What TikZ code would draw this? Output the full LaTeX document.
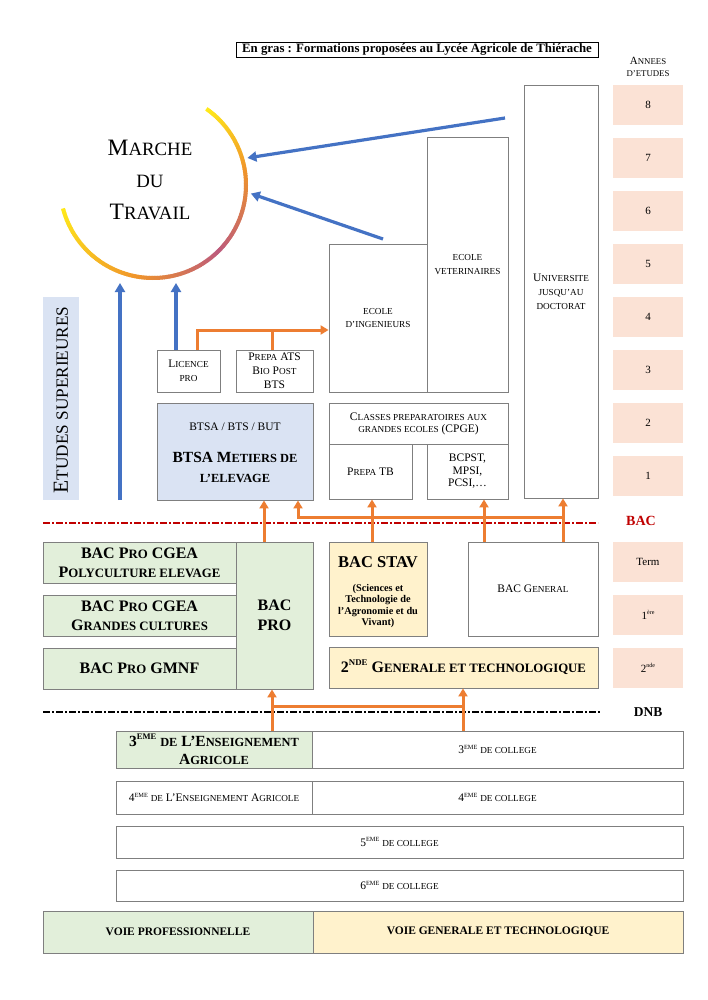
\documentclass[tikz,border=0pt]{standalone}
\usepackage{fontspec}
\usepackage{graphicx}
\setmainfont{Liberation Serif}
\usetikzlibrary{arrows.meta}
\newcommand\sm[1]{\scalebox{0.8}{#1}}
\newcommand\mysup[1]{\raisebox{0.42em}{\scalebox{0.55}{#1}}}
\newcommand\fnorm{\fontsize{11.5}{14}\selectfont}
\newcommand\fbold{\fontsize{16}{19}\selectfont\bfseries}
\definecolor{bgray}{HTML}{7F7F7F}
\definecolor{gfill}{HTML}{E2EFDA}
\definecolor{yfill}{HTML}{FFF2CC}
\definecolor{pfill}{HTML}{FBE2D5}
\definecolor{bfill}{HTML}{DAE3F3}
\definecolor{oline}{HTML}{ED7D31}
\definecolor{bline}{HTML}{4472C4}
\definecolor{redbac}{HTML}{C00000}
\definecolor{arcY}{HTML}{FFEA1A}
\definecolor{arcO}{HTML}{F0952A}
\definecolor{arcP}{HTML}{BD5A7C}
\begin{document}
\begin{tikzpicture}[x=1pt,y=-1pt,
  box/.style={draw=bgray, line width=0.9pt, inner sep=1pt, align=center, font=\fnorm},
  yearbox/.style={fill=pfill, minimum width=70pt, minimum height=40pt, inner sep=0, font=\fontsize{11}{13}\selectfont},
  oarrow/.style={draw=oline, line width=3pt, -{Triangle[length=8pt,width=9pt]}},
  oline/.style={draw=oline, line width=3pt},
  barrow/.style={draw=bline, line width=3.2pt, -{Triangle[length=9pt,width=10pt]}},
  dashline/.style={line width=1.5pt, dash pattern=on 7pt off 2pt on 2pt off 2pt}]
\useasboundingbox (0,0) rectangle (708,1000);
\fill[white] (0,0) rectangle (708,1000);

% header
\node[draw=black, line width=0.8pt, minimum width=362pt, minimum height=15pt, inner sep=0,
  font=\fontsize{12.8}{14}\selectfont\bfseries] (hdr) at (417,49.5)
  {En gras : Formations proposées au Lycée Agricole de Thiérache};
\node[align=center, font=\fontsize{11}{11.5}\selectfont] (annees) at (648,67) {A\sm{NNEES}\\\sm{D'ETUDES}};

% year boxes
\node[yearbox] (y8) at (648,105) {8};
\node[yearbox] (y7) at (648,158) {7};
\node[yearbox] (y6) at (648,211) {6};
\node[yearbox] (y5) at (648,264) {5};
\node[yearbox] (y4) at (648,317) {4};
\node[yearbox] (y3) at (648,370) {3};
\node[yearbox] (y2) at (648,423) {2};
\node[yearbox] (y1) at (648,476) {1};
\node[font=\fontsize{14}{16}\selectfont\bfseries, text=redbac] (bacl) at (641,521) {BAC};
\node[yearbox] (yt) at (648,562) {Term};
\node[yearbox] (yp) at (648,615) {1\mysup{ère}};
\node[yearbox] (ys) at (648,668) {2\mysup{nde}};
\node[font=\fontsize{13.5}{15}\selectfont\bfseries] (dnbl) at (648,712) {DNB};

% higher education
\node[box, minimum width=74pt, minimum height=413pt, font=\fontsize{11.5}{14}\selectfont] (univ) at (561,291.5)
  {U\sm{NIVERSITE}\\\sm{JUSQU'AU}\\\sm{DOCTORAT}};
\node[box, minimum width=81pt, minimum height=255pt, font=\fontsize{11.5}{14}\selectfont] (vet) at (467.5,264.5)
  {\sm{ECOLE}\\\sm{VETERINAIRES}};
\node[box, minimum width=98pt, minimum height=148pt, font=\fontsize{11.5}{13}\selectfont] (ing) at (378,318)
  {\sm{ECOLE}\\\sm{D'INGENIEURS}};
\node[box, minimum width=179pt, minimum height=41pt, font=\fontsize{11.5}{12}\selectfont] (cpge) at (418.5,423.5)
  {C\sm{LASSES PREPARATOIRES AUX}\\\sm{GRANDES ECOLES} (CPGE)};
\node[box, minimum width=83pt, minimum height=55pt] (prepatb) at (370.5,471.5) {P\sm{REPA} TB};
\node[box, minimum width=81pt, minimum height=55pt, font=\fontsize{11.5}{12.5}\selectfont] (bcpst) at (467.5,471.5)
  {BCPST,\\MPSI,\\PCSI,…};

\node[box, fill=bfill, minimum width=156pt, minimum height=97pt] (btsa) at (235,451.5) {};
\node[font=\fnorm] (btsaA) at (235,427) {BTSA / BTS / BUT};
\node[font=\fontsize{15.5}{20}\selectfont\bfseries, align=center] (btsaB) at (235,467)
  {BTSA M\sm{ETIERS DE}\\\sm{L'ELEVAGE}};
\node[box, minimum width=63pt, minimum height=42pt] (licence) at (188.5,371) {L\sm{ICENCE}\\\sm{PRO}};
\node[box, minimum width=77pt, minimum height=42pt] (prepaats) at (274.5,371)
  {P\sm{REPA} ATS\\B\sm{IO} P\sm{OST}\\BTS};

\node[fill=bfill, minimum width=36pt, minimum height=203pt, inner sep=0] (etu) at (61,398.5) {};
\node[rotate=90, font=\fontsize{21.5}{24}\selectfont] (etuT) at (61,400) {E\sm{TUDES SUPERIEURES}};

% marche du travail
\node[circle, minimum size=196pt, inner sep=0] (mdt) at (153,185) {};
\coordinate (cc) at (153,185);
\foreach \a in {-55,-54,...,-11} {\pgfmathtruncatemacro\t{(\a+55)/45*100}
  \draw[line width=4pt, arcO!\t!arcY] ([shift={(\a:93)}]cc) arc[start angle=\a, end angle=\a+1.4, radius=93];}
\foreach \a in {-10,-9,...,44} {\pgfmathtruncatemacro\t{(\a+10)/55*100}
  \draw[line width=4pt, arcP!\t!arcO] ([shift={(\a:93)}]cc) arc[start angle=\a, end angle=\a+1.4, radius=93];}
\foreach \a in {45,46,...,99} {\pgfmathtruncatemacro\t{(\a-45)/55*100}
  \draw[line width=4pt, arcO!\t!arcP] ([shift={(\a:93)}]cc) arc[start angle=\a, end angle=\a+1.4, radius=93];}
\foreach \a in {100,101,...,164} {\pgfmathtruncatemacro\t{(\a-100)/65*100}
  \draw[line width=4pt, arcY!\t!arcO] ([shift={(\a:93)}]cc) arc[start angle=\a, end angle=\a+1.4, radius=93];}
\node[align=center, font=\fontsize{23.5}{32}\selectfont] (mdtT) at (150,180)
  {M\sm{ARCHE}\\\sm{DU}\\T\sm{RAVAIL}};

% blue arrows
\coordinate (bs1) at (505,118);
\coordinate (bs2) at (383,239);
\coordinate (bs3) at (120,500);
\coordinate (bt3) at (120,283);
\coordinate (bt4) at (176,283);
\draw[barrow] (bs1) -- (mdt.16);
\draw[barrow] (bs2) -- (mdt.-5);
\draw[barrow] (bs3) -- (bt3);
\draw[barrow] (bt4 |- licence.north) -- (bt4);

% orange from licence / prepa ats
\coordinate (o1) at (197,330);
\coordinate (o2) at (272,330);
\draw[oarrow] (o1 |- licence.north) -- (o1) -- (o1 -| ing.west);
\draw[oline] (o2 |- prepaats.north) -- (o2);

% lycee level
\node[box, fill=gfill, minimum width=193pt, minimum height=41pt, font=\fbold] (bac1) at (139.5,562.5)
  {BAC P\sm{RO} CGEA\\P\sm{OLYCULTURE ELEVAGE}};
\node[box, fill=gfill, minimum width=193pt, minimum height=41pt, font=\fbold] (bac2) at (139.5,615.5)
  {BAC P\sm{RO} CGEA\\G\sm{RANDES CULTURES}};
\node[box, fill=gfill, minimum width=193pt, minimum height=41pt, font=\fbold] (bac3) at (139.5,668.5)
  {BAC P\sm{RO} GMNF};
\node[box, fill=gfill, minimum width=77pt, minimum height=147pt, font=\fontsize{16}{20}\selectfont\bfseries] (bacpro) at (274.5,615.5)
  {BAC\\PRO};
\node[box, fill=yfill, minimum width=98pt, minimum height=94pt] (stav) at (378,589) {};
\node[font=\fontsize{16.5}{20}\selectfont\bfseries] (stavT) at (378,562) {BAC STAV};
\node[font=\fontsize{10.3}{11.2}\selectfont\bfseries, align=center] (stavS) at (378,606)
  {(Sciences et\\Technologie de\\l'Agronomie et du\\Vivant)};
\node[box, minimum width=130pt, minimum height=94pt] (bacgen) at (533,589) {BAC G\sm{ENERAL}};
\node[box, fill=yfill, minimum width=269pt, minimum height=41pt, font=\fbold] (seconde) at (463.5,667.5)
  {2\mysup{NDE} G\sm{ENERALE ET TECHNOLOGIQUE}};

% BAC line and orange arrows
\draw[dashline, redbac] (43,523) -- (598,523);
\coordinate (a1) at (264,0);
\coordinate (h1) at (298,517);
\coordinate (h2) at (563,517);
\coordinate (v1) at (372,0);
\coordinate (v2) at (484,0);
\draw[oarrow] (a1 |- bacpro.north) -- (a1 |- btsa.south);
\draw[oarrow] (h2) -- (h1) -- (h1 |- btsa.south);
\draw[oarrow] (v1 |- stav.north) -- (v1 |- prepatb.south);
\draw[oarrow] (v2 |- bacgen.north) -- (v2 |- bcpst.south);
\draw[oarrow] (h2 |- bacgen.north) -- (h2 |- univ.south);

% college
\node[box, fill=gfill, minimum width=196pt, minimum height=37pt, font=\fontsize{15.5}{18}\selectfont\bfseries] (troisA) at (214,749.5)
  {3\mysup{EME} \sm{DE} L'E\sm{NSEIGNEMENT}\\A\sm{GRICOLE}};
\node[box, minimum width=371pt, minimum height=37pt] (troisB) at (497.5,749.5) {3\mysup{EME} \sm{DE COLLEGE}};
\node[box, minimum width=196pt, minimum height=33pt] (quatA) at (214,797.5)
  {4\mysup{EME} \sm{DE} L'E\sm{NSEIGNEMENT} A\sm{GRICOLE}};
\node[box, minimum width=371pt, minimum height=33pt] (quatB) at (497.5,797.5) {4\mysup{EME} \sm{DE COLLEGE}};
\node[box, minimum width=567pt, minimum height=32pt] (cinq) at (399.5,842) {5\mysup{EME} \sm{DE COLLEGE}};
\node[box, minimum width=567pt, minimum height=31pt] (six) at (399.5,885.5) {6\mysup{EME} \sm{DE COLLEGE}};
\node[box, fill=gfill, minimum width=270pt, minimum height=42pt, font=\fontsize{11.5}{14}\selectfont\bfseries] (voieA) at (178,932)
  {VOIE PROFESSIONNELLE};
\node[box, fill=yfill, minimum width=370pt, minimum height=42pt, font=\fontsize{11.5}{14}\selectfont\bfseries] (voieB) at (498,932)
  {VOIE GENERALE ET TECHNOLOGIQUE};

% DNB line and orange
\draw[dashline, black] (43,712) -- (600,712);
\coordinate (d1) at (272,706);
\coordinate (d2) at (463,706);
\draw[oline] (d1) -- (d2);
\draw[oarrow] (d1 |- troisA.north) -- (d1) -- (d1 |- bacpro.south);
\draw[oarrow] (d2 |- troisB.north) -- (d2) -- (d2 |- seconde.south);
\end{tikzpicture}
\end{document}
